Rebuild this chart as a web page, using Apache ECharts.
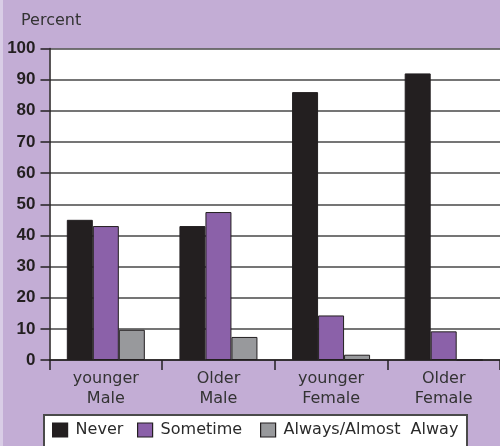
<!DOCTYPE html>
<html>
<head>
<meta charset="utf-8">
<script src="https://cdn.jsdelivr.net/npm/echarts@6/dist/echarts.min.js"></script>
<style>
  html, body { margin: 0; padding: 0; background: #c3add5; }
  #chart { width: 500px; height: 446px; }
</style>
</head>
<body>
<div id="chart"></div>
<script>
// Smoking frequency by age group and sex (percent)
const categories = ['younger\nMale', 'Older\nMale', 'younger\nFemale', 'Older\nFemale'];
const seriesNames = ['Never', 'Sometime', 'Always/Almost  Alway'];
const never = [45, 43, 86, 92];
const sometime = [43, 47.5, 14.3, 9.2];
const always = [9.7, 7.4, 1.7, 0];
const yTicks = [0, 10, 20, 30, 40, 50, 60, 70, 80, 90, 100];

const colors = ['#231f20', '#8b61a9', '#98999c'];
const font = 'DejaVu Sans';

const chart = echarts.init(document.getElementById('chart'), null, { renderer: 'canvas' });

function legendAt(name, left) {
  return {
    data: [name],
    left: left,
    top: 422,
    itemWidth: 15,
    itemHeight: 14,
    selectedMode: false,
    padding: 0,
    itemStyle: { borderColor: '#231f20', borderWidth: 1.2 },
    textStyle: { fontFamily: font, fontSize: 16, color: '#2a2a2a', padding: [0, 0, 0, 3] },
    icon: 'rect'
  };
}

chart.setOption({
  backgroundColor: '#c3add5',
  animation: false,
  title: {
    text: 'Percent',
    left: 16,
    top: 8,
    textStyle: { fontFamily: font, fontSize: 16, fontWeight: 'normal', color: '#333' }
  },
  graphic: [
    { type: 'rect', left: 0, top: 0, shape: { width: 3, height: 446 }, style: { fill: '#d9cde6' }, z: -1 },
    { type: 'rect', left: 43, top: 414, shape: { x: 0, y: 0, width: 423, height: 40 },
      style: { fill: '#ffffff', stroke: '#4a4a4a', lineWidth: 2 }, z: 0 }
  ],
  legend: [
    legendAt(seriesNames[0], 52),
    legendAt(seriesNames[1], 137),
    legendAt(seriesNames[2], 260)
  ],
  grid: { left: 49.5, right: -5, top: 48.5, bottom: 86, backgroundColor: '#ffffff', show: true, borderWidth: 0 },
  xAxis: {
    type: 'category',
    data: categories,
    axisLine: { lineStyle: { color: '#231f20', width: 1.5 } },
    axisTick: { show: true, length: 10, lineStyle: { color: '#231f20', width: 1.5 } },
    axisLabel: { fontFamily: font, fontSize: 16, color: '#333', lineHeight: 20, margin: 9 }
  },
  yAxis: {
    type: 'value',
    min: yTicks[0],
    max: yTicks[yTicks.length - 1],
    interval: 10,
    axisLine: { show: true, lineStyle: { color: '#231f20', width: 1.5 } },
    axisTick: { show: true, length: 9, lineStyle: { color: '#231f20', width: 1.5 } },
    splitLine: { lineStyle: { color: '#474747', width: 1.5 } },
    axisLabel: {
      fontFamily: '"Liberation Sans Narrow", "Liberation Sans", sans-serif',
      fontWeight: 'bold', fontSize: 17, color: '#231f20', margin: 14
    }
  },
  series: [
    { name: seriesNames[0], type: 'bar', data: never, barWidth: 26, barGap: '0%',
      itemStyle: { color: colors[0], borderColor: '#231f20', borderWidth: 1 } },
    { name: seriesNames[1], type: 'bar', data: sometime, barWidth: 26, barGap: '0%',
      itemStyle: { color: colors[1], borderColor: '#231f20', borderWidth: 1 } },
    { name: seriesNames[2], type: 'bar', data: always, barWidth: 26, barGap: '0%',
      itemStyle: { color: colors[2], borderColor: '#231f20', borderWidth: 1 } }
  ]
});
</script>
</body>
</html>
